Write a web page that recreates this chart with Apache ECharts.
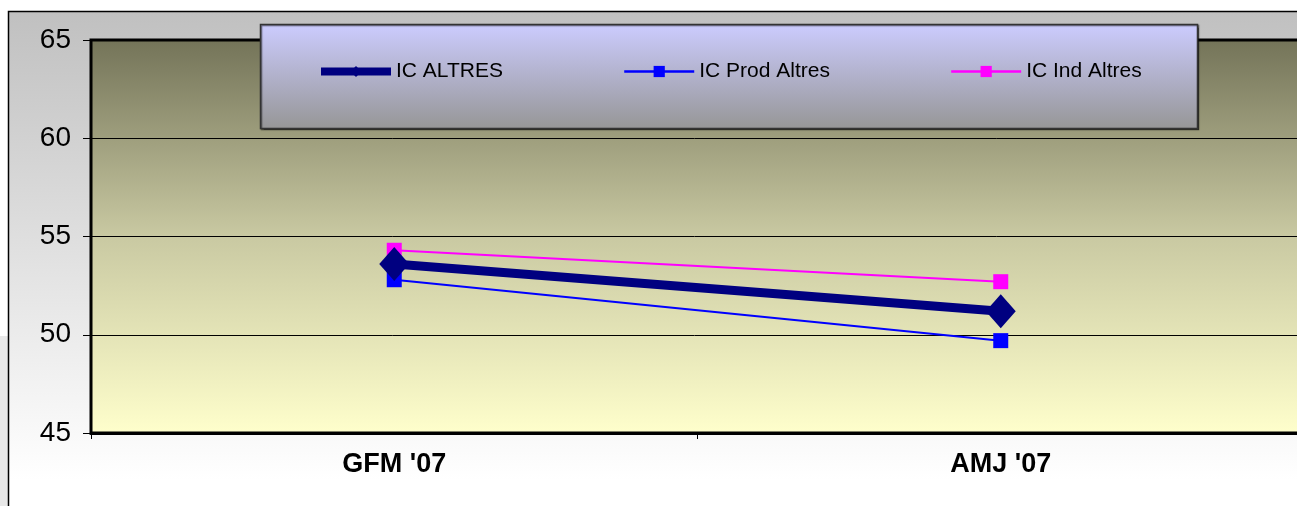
<!DOCTYPE html>
<html>
<head>
<meta charset="utf-8">
<script src="https://cdn.jsdelivr.net/npm/echarts@6/dist/echarts.min.js"></script>
<style>
  html, body { margin: 0; padding: 0; background: #ffffff; }
  #chart { width: 1297px; height: 506px; }
</style>
</head>
<body>
<div id="chart"></div>
<script>
// Periods on the horizontal axis
const categories = ["GFM '07", "AMJ '07"];

// Index values per series
const icAltres = [53.6, 51.2];
const icProdAltres = [52.8, 49.7];
const icIndAltres = [54.3, 52.7];

// Series names shown in the legend
const seriesNames = ['IC ALTRES', 'IC Prod Altres', 'IC Ind Altres'];

// Value axis range
const yMin = 45, yMax = 65, yStep = 5;

const chart = echarts.init(document.getElementById('chart'), null, { renderer: 'canvas' });

const font = '"Liberation Sans", Arial, sans-serif';

chart.setOption({
  animation: false,
  backgroundColor: '#ffffff',
  graphic: [
    // light strip at the lower left edge
    { type: 'rect', z: -10, silent: true,
      shape: { x: 0, y: 336, width: 8, height: 200 },
      style: { fill: '#e8e8e8' } },
    // outer chart frame with a grey-to-white fade
    { type: 'rect', z: -10, silent: true,
      shape: { x: 8.5, y: 11.5, width: 1400, height: 600 },
      style: {
        fill: new echarts.graphic.LinearGradient(0, 0, 0, 1, [
          { offset: 0, color: '#c0c0c0' },
          { offset: 0.78, color: '#ffffff' },
          { offset: 1, color: '#ffffff' }
        ]),
        stroke: '#000000', lineWidth: 1.5
      } },
    // legend box
    { type: 'rect', z: 5, silent: true,
      shape: { x: 260.5, y: 24.5, width: 937, height: 104 },
      style: {
        fill: new echarts.graphic.LinearGradient(0, 0, 0, 1, [
          { offset: 0, color: '#ccccff' },
          { offset: 1, color: '#969696' }
        ]),
        stroke: '#333333', lineWidth: 1.5,
        shadowColor: 'rgba(0,0,0,0.5)', shadowOffsetX: 1, shadowOffsetY: 1, shadowBlur: 1
      } }
  ],
  legend: {
    z: 10,
    left: 317,
    top: 61,
    padding: 0,
    itemWidth: 70,
    itemHeight: 14,
    itemGap: 120,
    data: [
      { name: seriesNames[0], itemStyle: { color: '#000080' }, lineStyle: { width: 8, color: '#000080' } },
      { name: seriesNames[1], lineStyle: { width: 2.5 } },
      { name: seriesNames[2], lineStyle: { width: 2.5 } }
    ],
    textStyle: { fontFamily: font, fontSize: 21, color: '#000000' }
  },
  grid: {
    left: 91,
    width: 1213,
    top: 40,
    bottom: 73,
    outerBoundsMode: 'none',
    containLabel: false,
    show: true,
    borderWidth: 3,
    borderColor: '#000000',
    backgroundColor: new echarts.graphic.LinearGradient(0, 0, 0, 1, [
      { offset: 0, color: '#737358' },
      { offset: 0.5, color: '#c9c9a2' },
      { offset: 1, color: '#ffffcc' }
    ])
  },
  xAxis: {
    type: 'category',
    data: categories,
    boundaryGap: true,
    axisLine: { lineStyle: { color: '#000000', width: 3 } },
    axisTick: { show: true, length: 6, lineStyle: { color: '#000000', width: 1 } },
    axisLabel: { margin: 18, fontFamily: font, fontSize: 27, fontWeight: 'bold', color: '#000000' }
  },
  yAxis: {
    type: 'value',
    min: yMin,
    max: yMax,
    interval: yStep,
    axisLine: { show: true, lineStyle: { color: '#000000', width: 2 } },
    axisTick: { show: true, length: 8, lineStyle: { color: '#000000', width: 1 } },
    axisLabel: { margin: 20, fontFamily: font, fontSize: 28, color: '#000000' },
    splitLine: { show: true, lineStyle: { color: '#000000', width: 1 } }
  },
  series: [
    {
      name: seriesNames[1], type: 'line', data: icProdAltres,
      symbol: 'rect', symbolSize: 15,
      lineStyle: { color: '#0000ff', width: 2 },
      itemStyle: { color: '#0000ff' }
    },
    {
      name: seriesNames[2], type: 'line', data: icIndAltres,
      symbol: 'rect', symbolSize: 15,
      lineStyle: { color: '#ff00ff', width: 2 },
      itemStyle: { color: '#ff00ff' }
    },
    {
      name: seriesNames[0], type: 'line', data: icAltres,
      symbol: 'diamond', symbolSize: [30, 34],
      lineStyle: { color: '#000080', width: 9 },
      itemStyle: { color: '#000080' }
    }
  ]
});
</script>
</body>
</html>
